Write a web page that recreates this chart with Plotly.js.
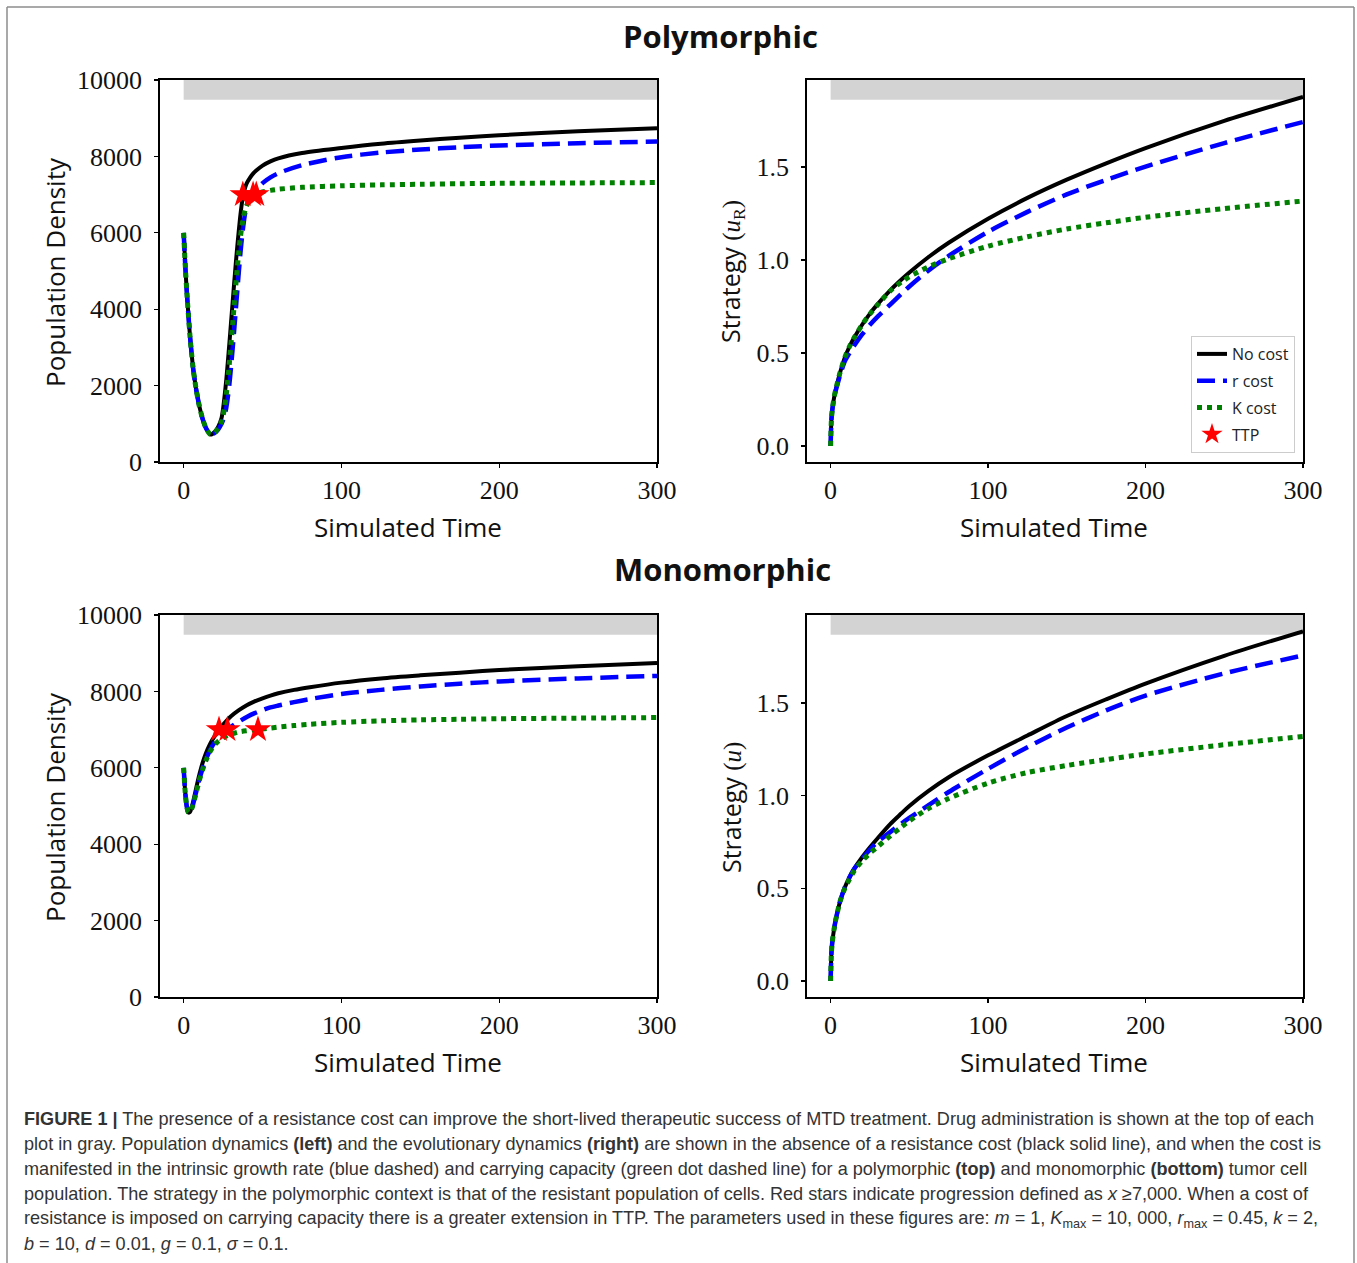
<!DOCTYPE html>
<html><head><meta charset="utf-8">
<script src="https://cdn.plot.ly/plotly-3.0.1.min.js"></script>
<style>html,body{margin:0;padding:0;background:#fff;} #chart{width:1357px;height:1263px;}</style>
</head><body><div id="chart"></div>
<script>
// ---------------- DATA ----------------
const seriesNames = ['No cost', 'r cost', 'K cost'];
const ttpName = 'TTP';
const xTicks = [0, 100, 200, 300];
const popTicks = [0, 2000, 4000, 6000, 8000, 10000];
const popTickText = ['0', '2000', '4000', '6000', '8000', '10000'];
const stratTicks = [0, 0.5, 1.0, 1.5];
const stratTickText = ['0.0', '0.5', '1.0', '1.5'];
const drugOn = [0, 300];

// Polymorphic population (top-left)
const tPolyPop = [0,1,2,3,4,5,6,7,8,10,12,14,16,17,18,20,22,24,25,26,27,28,29,30,31,32,33,34,35,36,37,38,39,40,42,44,46,50,55,60,75,100,125,150,175,200,250,300];
const polyPopNoCost = [6000,5150,4450,3850,3300,2850,2450,2150,1880,1450,1130,900,760,720,730,800,930,1150,1400,1750,2150,2620,3120,3640,4160,4680,5180,5650,6080,6480,6800,7030,7190,7300,7440,7550,7630,7760,7870,7950,8090,8220,8330,8415,8490,8555,8660,8740];
const polyPopRCost = [6000,5150,4450,3850,3300,2850,2450,2150,1880,1450,1130,900,760,720,725,770,860,1000,1100,1230,1420,1700,2050,2480,2950,3450,3970,4490,5000,5480,5900,6250,6520,6720,6930,7040,7130,7300,7450,7560,7770,7980,8100,8180,8240,8285,8345,8390];
const polyPopKCost = [6000,5150,4450,3850,3300,2850,2450,2150,1880,1450,1130,900,760,720,728,785,890,1060,1220,1450,1760,2150,2600,3080,3580,4100,4600,5080,5520,5900,6200,6430,6600,6720,6860,6950,7005,7070,7110,7140,7190,7230,7255,7270,7285,7295,7305,7315];
const polyTTPt = [37.5, 44, 46];
const polyTTPx = [7000, 7000, 7000];

// Polymorphic strategy u_R (top-right)
const tStrat = [0,0.5,1,2,3,4,6,9,12,15,20,25,30,38,45,50,62,75,100,125,150,175,200,250,300];
const polyStratNoCost = [0,0.14,0.19,0.25,0.295,0.33,0.395,0.475,0.535,0.583,0.652,0.712,0.764,0.838,0.895,0.933,1.015,1.093,1.222,1.334,1.432,1.52,1.602,1.748,1.877];
const polyStratRCost = [0,0.14,0.19,0.25,0.29,0.32,0.38,0.455,0.50,0.54,0.60,0.652,0.697,0.762,0.819,0.858,0.943,1.022,1.152,1.259,1.353,1.431,1.502,1.629,1.742];
const polyStratKCost = [0,0.14,0.19,0.25,0.295,0.33,0.395,0.475,0.535,0.583,0.652,0.71,0.76,0.835,0.882,0.91,0.963,1.007,1.075,1.125,1.167,1.2,1.23,1.277,1.317];

// Monomorphic population (bottom-left)
const tMonoPop = [0,1,2,3,4,5,6,8,10,12,14,16,18,20,22,24,26,28,30,35,40,45,50,55,60,70,80,100,125,150,175,200,250,300];
const monoPopNoCost = [6000,5350,4980,4830,4840,4960,5110,5480,5830,6130,6370,6560,6720,6850,6975,7080,7180,7270,7350,7510,7640,7740,7820,7890,7950,8040,8110,8230,8340,8420,8490,8560,8660,8745];
const monoPopRCost = [6000,5350,4980,4830,4830,4930,5050,5380,5700,5980,6210,6400,6560,6690,6790,6870,6940,7005,7070,7210,7330,7430,7510,7580,7630,7720,7800,7930,8040,8130,8200,8260,8340,8405];
const monoPopKCost = [6000,5350,4980,4830,4830,4920,5040,5360,5680,5950,6180,6370,6510,6620,6700,6760,6810,6850,6880,6940,6970,6992,7015,7040,7065,7105,7140,7190,7230,7255,7270,7285,7300,7315];
const monoTTPt = [22.4, 27.7, 47.1];
const monoTTPx = [7000, 7000, 7000];

// Monomorphic strategy u (bottom-right)
const monoStratNoCost = [0,0.15,0.205,0.27,0.32,0.36,0.43,0.505,0.56,0.606,0.668,0.722,0.772,0.848,0.905,0.945,1.025,1.1,1.218,1.325,1.43,1.52,1.605,1.755,1.887];
const monoStratRCost = [0,0.15,0.205,0.27,0.32,0.36,0.43,0.505,0.56,0.606,0.66,0.71,0.752,0.805,0.85,0.88,0.948,1.02,1.145,1.262,1.368,1.46,1.54,1.66,1.757];
const monoStratKCost = [0,0.15,0.205,0.27,0.32,0.36,0.43,0.50,0.55,0.595,0.648,0.69,0.726,0.784,0.831,0.864,0.93,0.985,1.068,1.125,1.163,1.195,1.225,1.275,1.32];

const titleTop = 'Polymorphic';
const titleBottom = 'Monomorphic';
const xTitle = 'Simulated Time';
const popTitle = 'Population Density';
const stratTitleTop = 'Strategy <span style="font-family:Liberation Serif">(<i>u</i><sub>R</sub>)</span>';
const stratTitleBottom = 'Strategy <span style="font-family:Liberation Serif">(<i>u</i>)</span>';
const captionLines = [
  '<b>FIGURE 1 |</b> The presence of a resistance cost can improve the short-lived therapeutic success of MTD treatment. Drug administration is shown at the top of each',
  'plot in gray. Population dynamics <b>(left)</b> and the evolutionary dynamics <b>(right)</b> are shown in the absence of a resistance cost (black solid line), and when the cost is',
  'manifested in the intrinsic growth rate (blue dashed) and carrying capacity (green dot dashed line) for a polymorphic <b>(top)</b> and monomorphic <b>(bottom)</b> tumor cell',
  'population. The strategy in the polymorphic context is that of the resistant population of cells. Red stars indicate progression defined as <i>x</i> ≥7,000. When a cost of',
  'resistance is imposed on carrying capacity there is a greater extension in TTP. The parameters used in these figures are: <i>m</i> = 1, <i>K</i><sub>max</sub> = 10, 000, <i>r</i><sub>max</sub> = 0.45, <i>k</i> = 2,',
  '<i>b</i> = 10, <i>d</i> = 0.01, <i>g</i> = 0.1, <i>σ</i> = 0.1.'
];

// ---------------- LAYOUT HELPERS ----------------
const W = 1357, H = 1263;
const px = x => x / W;
const py = y => 1 - y / H;

const styles = [
  {color: '#000000', width: 4, dash: 'solid', shape: 'spline', smoothing: 0.8},
  {color: '#0000ff', width: 4.5, dash: '18px,8px', shape: 'spline', smoothing: 0.8},
  {color: '#008000', width: 5, dash: '5px,5px', shape: 'spline', smoothing: 0.8}
];

const traces = [];
function addPanel(xa, ya, t, ys, showLeg) {
  ys.forEach((y, i) => {
    traces.push({
      x: t, y: y, type: 'scatter', mode: 'lines', name: seriesNames[i], legendgroup: 'g' + i,
      xaxis: xa, yaxis: ya, line: styles[i], showlegend: showLeg, legendrank: i + 1,
      hoverinfo: 'skip'
    });
  });
}
addPanel('x', 'y', tPolyPop, [polyPopNoCost, polyPopRCost, polyPopKCost], false);
addPanel('x2', 'y2', tStrat, [polyStratNoCost, polyStratRCost, polyStratKCost], true);
addPanel('x3', 'y3', tMonoPop, [monoPopNoCost, monoPopRCost, monoPopKCost], false);
addPanel('x4', 'y4', tStrat, [monoStratNoCost, monoStratRCost, monoStratKCost], false);
traces.push({x: polyTTPt, y: polyTTPx, type: 'scatter', mode: 'markers', name: ttpName, xaxis: 'x', yaxis: 'y', legendgroup: 'g3',
  marker: {symbol: 'star', size: 20, color: '#ff0000', line: {width: 0}}, showlegend: true, legendrank: 4, hoverinfo: 'skip'});
traces.push({x: monoTTPt, y: monoTTPx, type: 'scatter', mode: 'markers', name: ttpName, xaxis: 'x3', yaxis: 'y3', legendgroup: 'g3',
  marker: {symbol: 'star', size: 20, color: '#ff0000', line: {width: 0}}, showlegend: false, hoverinfo: 'skip'});

const tickFont = {family: 'Liberation Serif, serif', size: 26, color: '#111'};
function xax(dom, anchor) {
  return {domain: dom, anchor: anchor, range: [-15, 300], tickvals: xTicks, showgrid: false, zeroline: false,
    showline: true, mirror: true, linecolor: '#000', linewidth: 1.8, ticks: 'outside', ticklen: 4, tickwidth: 1.3,
    tickcolor: '#000', tickfont: tickFont, ticklabelstandoff: 0};
}
function yax(dom, anchor, range, vals, text) {
  return {domain: dom, anchor: anchor, range: range, tickvals: vals, ticktext: text, showgrid: false, zeroline: false,
    showline: true, mirror: true, linecolor: '#000', linewidth: 1.8, ticks: 'outside', ticklen: 4, tickwidth: 1.3,
    tickcolor: '#000', tickfont: tickFont, ticklabelstandoff: 7};
}
const xL = [px(160), px(657)], xR = [px(807), px(1303)];
const yT = [py(462), py(80)], yB = [py(997), py(615)];

const shapes = [];
[['x', 'y'], ['x2', 'y2'], ['x3', 'y3'], ['x4', 'y4']].forEach(([xa, ya]) => {
  shapes.push({type: 'rect', xref: xa, yref: ya + ' domain', x0: drugOn[0], x1: drugOn[1], y0: 0.948, y1: 1,
    fillcolor: '#d3d3d3', line: {width: 0}, layer: 'below'});
});
// outer frame
const frameColor = '#8c8c8c';
shapes.push({type: 'line', xref: 'paper', yref: 'paper', x0: px(7), x1: px(7), y0: py(7), y1: py(1263), line: {color: frameColor, width: 1.5}});
shapes.push({type: 'line', xref: 'paper', yref: 'paper', x0: px(7), x1: px(1354), y0: py(7), y1: py(7), line: {color: frameColor, width: 1.5}});
shapes.push({type: 'line', xref: 'paper', yref: 'paper', x0: px(1354), x1: px(1354), y0: py(7), y1: py(1263), line: {color: frameColor, width: 1.5}});

const labFont = {family: 'Open Sans, sans-serif', size: 26, color: '#111'};
const annotations = [];
function ann(text, x, y, opts) {
  annotations.push(Object.assign({text: text, x: px(x), y: py(y), xref: 'paper', yref: 'paper', showarrow: false,
    xanchor: 'center', yanchor: 'middle', font: labFont}, opts || {}));
}
const titleFont = {family: 'Open Sans, sans-serif', size: 31, color: '#111'};
ann('<b>' + titleTop + '</b>', 720, 36, {font: titleFont});
ann('<b>' + titleBottom + '</b>', 722, 569, {font: titleFont});
ann(popTitle, 55, 272, {textangle: -90});
ann(popTitle, 55, 807, {textangle: -90});
ann(stratTitleTop, 731, 272, {textangle: -90, font: Object.assign({}, labFont, {size: 25})});
ann(stratTitleBottom, 731, 808, {textangle: -90, font: Object.assign({}, labFont, {size: 25})});
ann(xTitle, 408, 527);
ann(xTitle, 1054, 527);
ann(xTitle, 408, 1062);
ann(xTitle, 1054, 1062);
const capFont = {family: 'Liberation Sans, Arial, sans-serif', size: 18.1, color: '#333'};
const capY = [1119, 1144, 1169, 1194, 1219, 1244];
captionLines.forEach((line, i) => ann(line, 22, capY[i], {xanchor: 'left', font: capFont, align: 'left'}));

const layout = {
  width: W, height: H, margin: {l: 0, r: 0, t: 0, b: 0}, paper_bgcolor: '#fff', plot_bgcolor: '#fff',
  showlegend: true,
  legend: {x: px(1295), y: py(453), xanchor: 'right', yanchor: 'bottom', bgcolor: '#fff', bordercolor: '#cccccc',
    borderwidth: 1, font: {family: 'Open Sans, sans-serif', size: 16, color: '#222'}, traceorder: 'grouped', tracegroupgap: 3},
  xaxis: xax(xL, 'y'), yaxis: yax(yT, 'x', [0, 10000], popTicks, popTickText),
  xaxis2: xax(xR, 'y2'), yaxis2: yax(yT, 'x2', [-0.086, 1.968], stratTicks, stratTickText),
  xaxis3: xax(xL, 'y3'), yaxis3: yax(yB, 'x3', [0, 10000], popTicks, popTickText),
  xaxis4: xax(xR, 'y4'), yaxis4: yax(yB, 'x4', [-0.086, 1.975], stratTicks, stratTickText),
  shapes: shapes, annotations: annotations
};
Plotly.newPlot('chart', traces, layout, {displayModeBar: false, staticPlot: true});
</script></body></html>
